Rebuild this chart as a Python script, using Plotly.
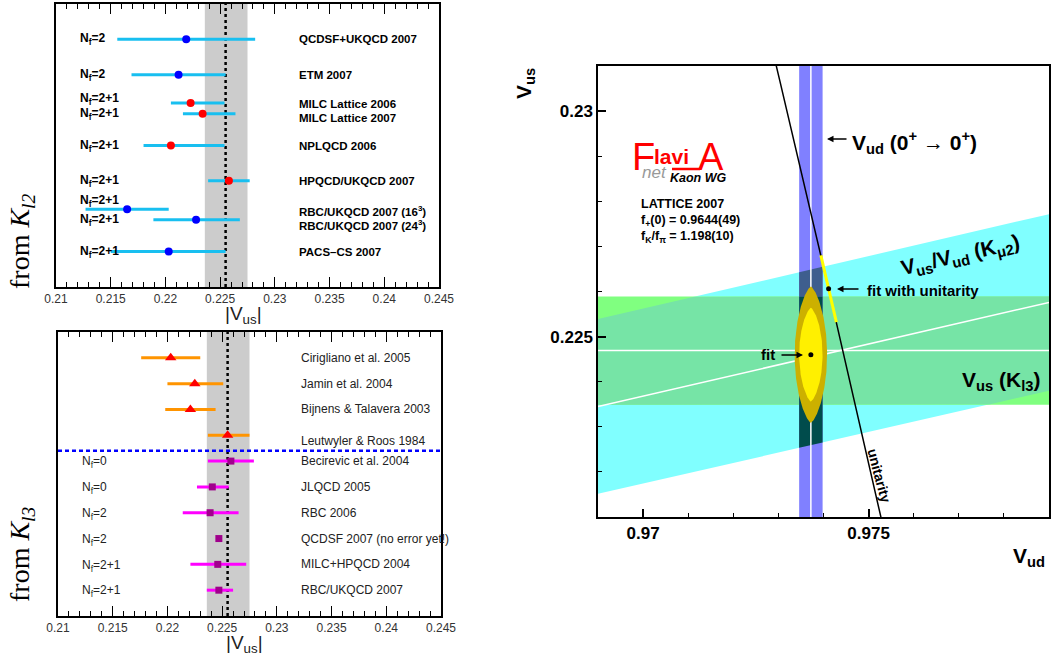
import numpy as np
import plotly.graph_objects as go

W, H = 1052, 657
SANS = "Liberation Sans, Arial, Helvetica, sans-serif"
SERIF = "Liberation Serif, Times New Roman, serif"

# ---------------- |Vus| from K_l2 (top-left panel) ----------------
kl2_labels = ["QCDSF+UKQCD 2007", "ETM 2007", "MILC Lattice 2006", "MILC Lattice 2007",
              "NPLQCD 2006", "HPQCD/UKQCD 2007", "RBC/UKQCD 2007 (16<sup>3</sup>)",
              "RBC/UKQCD 2007 (24<sup>3</sup>)", "PACS\u2013CS 2007"]
kl2_nf = ["2", "2", "2+1", "2+1", "2+1", "2+1", "2+1", "2+1", "2+1"]
kl2_row = [1, 2, 2.8, 3.1, 4, 5, 5.8, 6.1, 7]
kl2_vus = [0.2219, 0.2212, 0.2223, 0.2234, 0.2205, 0.2258, 0.2165, 0.2228, 0.2203]
kl2_lo = [0.2156, 0.2169, 0.2205, 0.2216, 0.2180, 0.2239, 0.2127, 0.2189, 0.2150]
kl2_hi = [0.2282, 0.2255, 0.2254, 0.2264, 0.2254, 0.2277, 0.2203, 0.2268, 0.2255]
kl2_sea = ["other", "other", "staggered", "staggered", "staggered", "staggered",
           "other", "other", "other"]
kl2_avg, kl2_avg_lo, kl2_avg_hi = 0.2255, 0.2236, 0.2275

# ---------------- |Vus| from K_l3 (bottom-left panel) ----------------
kl3_labels = ["Cirigliano et al. 2005", "Jamin et al. 2004", "Bijnens &amp; Talavera 2003",
              "Leutwyler &amp; Roos 1984", "Becirevic et al. 2004", "JLQCD 2005", "RBC 2006",
              "QCDSF 2007 (no error yet!)", "MILC+HPQCD 2004", "RBC/UKQCD 2007"]
kl3_nf = ["", "", "", "", "0", "0", "2", "2", "2+1", "2+1"]
kl3_row = [1, 2, 3, 4, 5, 6, 7, 8, 9, 10]
kl3_vus = [0.2203, 0.2225, 0.2221, 0.2255, 0.2258, 0.2241, 0.2239, 0.2247, 0.2246, 0.2247]
kl3_lo = [0.2176, 0.2200, 0.2198, 0.2237, 0.2237, 0.2227, 0.2214, 0.2247, 0.2221, 0.2236]
kl3_hi = [0.2230, 0.2251, 0.2244, 0.2275, 0.2279, 0.2256, 0.2265, 0.2247, 0.2272, 0.2260]
kl3_method = ["ChPT"] * 4 + ["lattice"] * 6
kl3_divider = 4.6
kl3_avg, kl3_avg_lo, kl3_avg_hi = 0.2255, 0.2236, 0.2275

left_ticks = [0.21, 0.215, 0.22, 0.225, 0.23, 0.235, 0.24, 0.245]
left_ticktext = ["0.21", "0.215", "0.22", "0.225", "0.23", "0.235", "0.24", "0.245"]

# ---------------- Vud - Vus plane (right panel) ----------------
vud_00, vud_00_err = 0.97372, 0.00026          # Vud (0+ -> 0+)
vus_kl3, vus_kl3_err = 0.22469, 0.00120        # Vus (Kl3)
ratio_km2, ratio_km2_err = 0.23060, 0.00200    # Vus/Vud (Kmu2)
fit_vud, fit_vus = 0.97372, 0.22460            # fit
fit_in = [0.00026, 0.00104]                    # 1 sigma ellipse semi-axes
fit_out = [0.00036, 0.00151]                   # 2 sigma ellipse semi-axes
unit_vus, unit_vus_err = 0.22606, 0.00074      # fit with unitarity
right_xticks, right_xticktext = [0.97, 0.975], ["0.97", "0.975"]
right_yticks, right_yticktext = [0.225, 0.23], ["0.225", "0.23"]
XR = [0.969, 0.979]
YR = [0.221, 0.231]

fig = go.Figure()

# ---- left panels ----
sea_style = {"other": "#0000ff", "staggered": "#ff0000"}
for sea, col in sea_style.items():
    idx = [i for i, s in enumerate(kl2_sea) if s == sea]
    v = np.array([kl2_vus[i] for i in idx])
    lo = np.array([kl2_lo[i] for i in idx])
    hi = np.array([kl2_hi[i] for i in idx])
    fig.add_trace(go.Scatter(
        x=v, y=[kl2_row[i] for i in idx], mode="markers", xaxis="x", yaxis="y",
        error_x=dict(type="data", symmetric=False, array=hi - v, arrayminus=v - lo,
                     color="#18bff0", thickness=3, width=0),
        marker=dict(color=col, size=8, line=dict(width=0))))

method_style = {"ChPT": ("#ff9400", "#ff0000", "triangle-up", 10),
                "lattice": ("#ff00ff", "#a0008c", "square", 7)}
for m, (ecol, mcol, sym, sz) in method_style.items():
    idx = [i for i, s in enumerate(kl3_method) if s == m]
    v = np.array([kl3_vus[i] for i in idx])
    lo = np.array([kl3_lo[i] for i in idx])
    hi = np.array([kl3_hi[i] for i in idx])
    fig.add_trace(go.Scatter(
        x=v, y=[kl3_row[i] for i in idx], mode="markers", xaxis="x2", yaxis="y2",
        error_x=dict(type="data", symmetric=False, array=hi - v, arrayminus=v - lo,
                     color=ecol, thickness=3, width=0),
        marker=dict(color=mcol, size=sz, symbol=sym, line=dict(width=0))))

shapes = []
for xr, yr, a, alo, ahi in [("x", "y domain", kl2_avg, kl2_avg_lo, kl2_avg_hi),
                            ("x2", "y2 domain", kl3_avg, kl3_avg_lo, kl3_avg_hi)]:
    shapes.append(dict(type="rect", xref=xr, yref=yr, x0=alo, x1=ahi, y0=0, y1=1,
                       fillcolor="#cccccc", line=dict(width=0), layer="below"))
    shapes.append(dict(type="line", xref=xr, yref=yr, x0=a, x1=a, y0=0, y1=1,
                       line=dict(color="black", width=2.5, dash="3px,3px"), layer="below"))
shapes.append(dict(type="line", xref="x2 domain", yref="y2", x0=0, x1=1,
                   y0=kl3_divider, y1=kl3_divider,
                   line=dict(color="#0000ff", width=2.5, dash="4px,3px"), layer="above"))

# ---- right panel ----
def poly(xs, ys, color):
    fig.add_trace(go.Scatter(x=xs, y=ys, fill="toself", fillcolor=color, mode="lines",
                             line=dict(width=0), xaxis="x3", yaxis="y3", hoverinfo="skip"))

r_lo, r_hi = ratio_km2 - ratio_km2_err, ratio_km2 + ratio_km2_err
g_lo, g_hi = vus_kl3 - vus_kl3_err, vus_kl3 + vus_kl3_err
b_lo, b_hi = vud_00 - vud_00_err, vud_00 + vud_00_err

xx = np.linspace(XR[0], XR[1], 200)
# cyan Kmu2 band
poly(np.r_[xx, xx[::-1]], np.r_[r_lo * xx, (r_hi * xx)[::-1]], "#80ffff")
# green Kl3 band
poly([XR[0], XR[1], XR[1], XR[0]], [g_lo, g_lo, g_hi, g_hi], "#80ff80")
# overlap
up = np.minimum(r_hi * xx, g_hi)
dn = np.maximum(r_lo * xx, g_lo)
poly(np.r_[xx, xx[::-1]], np.r_[dn, up[::-1]], "#76e4a6")
# Vud band
poly([b_lo, b_hi, b_hi, b_lo], [YR[0], YR[0], YR[1], YR[1]], "#8080ff")
bx = np.linspace(b_lo, b_hi, 20)
poly(np.r_[bx, bx[::-1]], np.r_[np.full_like(bx, g_hi), (r_hi * bx)[::-1]], "#3e5e8e")
poly(np.r_[bx, bx[::-1]], np.r_[r_lo * bx, np.full_like(bx, g_hi)], "#004c4c")

# central white lines
for xs, ys in [([vud_00, vud_00], YR), (XR, [vus_kl3, vus_kl3]),
               (xx, ratio_km2 * xx)]:
    fig.add_trace(go.Scatter(x=xs, y=ys, mode="lines", line=dict(color="white", width=1.5),
                             xaxis="x3", yaxis="y3", hoverinfo="skip"))

# fit ellipses
t = np.linspace(-1, 1, 241)
for (a, b), col in [(fit_out, "#ccb000"), (fit_in, "#fff000")]:
    w = a * (1 - t ** 2) ** 0.7
    ys = fit_vus + b * t
    poly(np.r_[fit_vud + w, (fit_vud - w)[::-1]], np.r_[ys, ys[::-1]], col)
fig.add_trace(go.Scatter(x=[fit_vud], y=[fit_vus], mode="markers",
                         marker=dict(color="black", size=5), xaxis="x3", yaxis="y3"))

# unitarity
uvus = np.linspace(YR[0] - 0.0005, YR[1] + 0.0005, 80)
fig.add_trace(go.Scatter(x=np.sqrt(1 - uvus ** 2), y=uvus, mode="lines",
                         line=dict(color="black", width=1.5), xaxis="x3", yaxis="y3"))
seg = np.linspace(unit_vus - unit_vus_err, unit_vus + unit_vus_err, 20)
fig.add_trace(go.Scatter(x=np.sqrt(1 - seg ** 2), y=seg, mode="lines",
                         line=dict(color="#ffff00", width=3), xaxis="x3", yaxis="y3"))
fig.add_trace(go.Scatter(x=[np.sqrt(1 - unit_vus ** 2)], y=[unit_vus], mode="markers",
                         marker=dict(color="black", size=5), xaxis="x3", yaxis="y3"))

# ---- annotations ----
ann = []


def txt(px, py, s, size, color="black", xanchor="center", angle=0, family=SANS):
    ann.append(dict(x=px / W, y=1 - py / H, xref="paper", yref="paper", text=s,
                    showarrow=False, xanchor=xanchor, yanchor="middle", textangle=angle,
                    font=dict(family=family, size=size, color=color)))


def arrow(hx, hy, tx, ty):
    ann.append(dict(x=hx / W, y=1 - hy / H, xref="paper", yref="paper", text="",
                    showarrow=True, ax=tx - hx, ay=ty - hy, axref="pixel", ayref="pixel",
                    arrowhead=2, arrowsize=1, arrowwidth=1.3, arrowcolor="black",
                    standoff=0, startstandoff=0))


kl2_left_dy = [0, 0, -0.12, 0, 0, 0, -0.23, 0, 0]
kl2_right_dy = [0, 0, 0.02, 0.11, 0, 0, 0.06, 0.15, 0]
for i, name in enumerate(kl2_labels):
    ann.append(dict(x=78 / W, y=kl2_row[i] + kl2_left_dy[i], xref="paper", yref="y",
                    text="<b>N<sub>f</sub>=%s</b>" % kl2_nf[i], showarrow=False,
                    xanchor="left", yanchor="middle",
                    font=dict(family=SANS, size=12, color="black")))
    ann.append(dict(x=297 / W, y=kl2_row[i] + kl2_right_dy[i], xref="paper", yref="y",
                    text="<b>%s</b>" % name, showarrow=False, xanchor="left",
                    yanchor="middle", font=dict(family=SANS, size=11.5, color="black")))

kl3_right_dy = [0, 0, 0, 0.23, 0, 0, 0, 0, 0, 0]
for i, name in enumerate(kl3_labels):
    if kl3_nf[i]:
        ann.append(dict(x=80 / W, y=kl3_row[i] + 0.05, xref="paper", yref="y2",
                        text="N<sub>f</sub>=%s" % kl3_nf[i], showarrow=False,
                        xanchor="left", yanchor="middle",
                        font=dict(family=SANS, size=12, color="#222222")))
    ann.append(dict(x=299 / W, y=kl3_row[i] + kl3_right_dy[i], xref="paper", yref="y2",
                    text=name, showarrow=False, xanchor="left", yanchor="middle",
                    font=dict(family=SANS, size=12, color="#222222")))

txt(21, 241, "from <i>K<sub>l2</sub></i>", 28, family=SERIF, angle=-90)
txt(21, 554, "from <i>K<sub>l3</sub></i>", 28, family=SERIF, angle=-90)
txt(243, 315, "|V<sub>us</sub>|", 19, color="#222222")
txt(244, 644, "|V<sub>us</sub>|", 19, color="#222222")

# right panel texts
txt(525, 84, "<b>V<sub>us</sub></b>", 21, angle=-90)
txt(1029, 557, "<b>V<sub>ud</sub></b>", 21)
txt(850, 143, "<b>V<sub>ud</sub> (0<sup>+</sup> \u2192 0<sup>+</sup>)</b>", 21, xanchor="left")
arrow(827, 139, 848, 139)
txt(960, 256, "<b>V<sub>us</sub>/V<sub>ud</sub> (K<sub>\u03bc2</sub>)</b>", 21, angle=-13)
txt(1001, 381, "<b>V<sub>us</sub> (K<sub>l3</sub>)</b>", 21)
txt(865, 290, "<b>fit with unitarity</b>", 15, xanchor="left")
arrow(837, 289, 860, 289)
txt(777, 354, "<b>fit</b>", 15, xanchor="right")
arrow(803, 355, 780, 355)
txt(879, 475, "<b>unitarity</b>", 14, angle=75)

# logo
txt(630, 157, "F", 38, color="#ff0000", xanchor="left")
txt(652, 156, "<b>lavi</b>", 21, color="#ff0000", xanchor="left")
txt(696, 157, "A", 38, color="#ff0000", xanchor="left")
txt(640, 172, "<i>net</i>", 17, color="#999999", xanchor="left")
txt(668, 178, "<b><i>Kaon WG</i></b>", 12.5, xanchor="left")
shapes.append(dict(type="line", xref="paper", yref="paper", x0=672 / W, x1=700 / W,
                   y0=1 - 169 / H, y1=1 - 169 / H, line=dict(color="#ff0000", width=2.5)))
txt(639, 204, "<b>LATTICE 2007</b>", 12.5, xanchor="left")
txt(639, 221, "<b>f<sub>+</sub>(0) = 0.9644(49)</b>", 12.5, xanchor="left")
txt(639, 237, "<b>f<sub>K</sub>/f<sub>\u03c0</sub> = 1.198(10)</b>", 12.5, xanchor="left")

left_x = dict(range=[0.21, 0.245], tickmode="array", tickvals=left_ticks,
              ticktext=left_ticktext, ticks="inside", ticklen=10, tickwidth=1.2,
              tickcolor="black", mirror="allticks", showline=True, linecolor="black",
              linewidth=2, showgrid=False, zeroline=False, automargin=False,
              tickfont=dict(family=SANS, size=12, color="#333333"),
              minor=dict(tickmode="linear", tick0=0.21, dtick=0.001, ticks="inside",
                         ticklen=5, tickwidth=1, tickcolor="black", showgrid=False))
left_y = dict(showline=True, mirror=True, linecolor="black", linewidth=2, ticks="",
              showticklabels=False, showgrid=False, zeroline=False, automargin=False)

fig.update_layout(
    template="none",
    width=W, height=H, margin=dict(l=0, r=0, t=0, b=0, autoexpand=False),
    paper_bgcolor="white", plot_bgcolor="white", showlegend=False, hovermode=False,
    xaxis=dict(domain=[56 / W, 439 / W], anchor="y", **left_x),
    yaxis=dict(domain=[1 - 287 / H, 1 - 4 / H], anchor="x", range=[8, 0], **left_y),
    xaxis2=dict(domain=[58 / W, 441 / W], anchor="y2", **left_x),
    yaxis2=dict(domain=[1 - 616 / H, 1 - 332 / H], anchor="x2", range=[11, 0], **left_y),
    xaxis3=dict(domain=[598 / W, 1049 / W], anchor="y3", range=XR, tickmode="array",
                tickvals=right_xticks, ticktext=right_xticktext, ticks="inside",
                ticklen=8, tickwidth=1.5, tickcolor="black", showline=True, mirror=True,
                linecolor="black", linewidth=1.5, showgrid=False, zeroline=False,
                automargin=False,
                tickfont=dict(family=SANS, size=17, color="black", weight="bold"),
                minor=dict(tickmode="linear", tick0=0.969, dtick=0.001, ticks="inside",
                           ticklen=4, tickwidth=1.2, tickcolor="black", showgrid=False)),
    yaxis3=dict(domain=[1 - 517 / H, 1 - 66 / H], anchor="x3", range=YR, tickmode="array",
                tickvals=right_yticks, ticktext=right_yticktext, ticks="inside",
                ticklen=8, tickwidth=1.5, tickcolor="black", showline=True, mirror=True,
                linecolor="black", linewidth=1.5, showgrid=False, zeroline=False,
                automargin=False,
                tickfont=dict(family=SANS, size=17, color="black", weight="bold"),
                minor=dict(tickmode="linear", tick0=0.221, dtick=0.001, ticks="inside",
                           ticklen=4, tickwidth=1.2, tickcolor="black", showgrid=False)),
    shapes=shapes, annotations=ann,
)

fig.write_html("out.html")
